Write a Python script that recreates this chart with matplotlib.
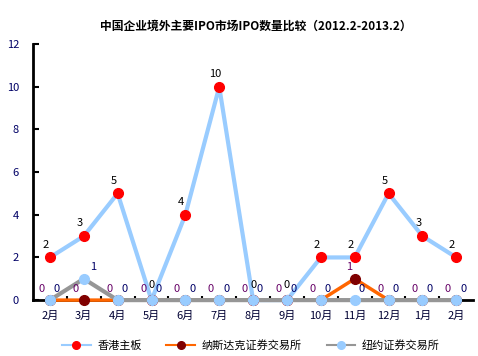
import matplotlib.pyplot as plt
from matplotlib.lines import Line2D

plt.rcParams['font.family'] = ['Noto Sans CJK SC', 'DejaVu Sans']

# data
months = ['2月', '3月', '4月', '5月', '6月', '7月', '8月', '9月', '10月', '11月', '12月', '1月', '2月']
hk_main = [2, 3, 5, 0, 4, 10, 0, 0, 2, 2, 5, 3, 2]
nasdaq = [0, 0, 0, 0, 0, 0, 0, 0, 0, 1, 0, 0, 0]
nyse = [0, 1, 0, 0, 0, 0, 0, 0, 0, 0, 0, 0, 0]
names = ['香港主板', '纳斯达克证券交易所', '纽约证券交易所']

fig = plt.figure(figsize=(4.78, 3.56), dpi=100)
ax = fig.add_axes([0.069, 0.157, 0.921, 0.719])
x = list(range(len(months)))

styles = [('#99CCFF', '#FF0000', 3), ('#FF6600', '#800000', 2.5), ('#969696', '#99CCFF', 3)]
for i, (vals, (lc, mc, lw)) in enumerate(zip([hk_main, nasdaq, nyse], styles)):
    ax.plot(x, vals, color=lc, lw=lw, marker='o', ms=7, mfc=mc, mec=mc,
            zorder=3 + i, clip_on=False)

# data labels
for i, v in enumerate(hk_main):
    off = (0, 9) if v == 0 else (-3, 7)
    ax.annotate(str(v), (i, v), xytext=off, textcoords='offset points',
                ha='center', fontsize=8, color='#000000', zorder=6)
for i, v in enumerate(nasdaq):
    off = (-6, 6) if v == 0 else (-4, 6)
    ax.annotate(str(v), (i, v), xytext=off, textcoords='offset points',
                ha='center', fontsize=8, color='#660066', zorder=6)
for i, v in enumerate(nyse):
    off = (5, 6) if v == 0 else (7, 6)
    ax.annotate(str(v), (i, v), xytext=off, textcoords='offset points',
                ha='center', fontsize=8, color='#000066', zorder=6)

ax.set_xlim(-0.5, len(months) - 0.5)
ax.set_ylim(0, 12)
ax.set_yticks(range(0, 13, 2))
ax.set_yticklabels([str(t) for t in range(0, 13, 2)], color='#000066', fontsize=8)
ax.set_xticks(x)
ax.set_xticklabels(months, fontsize=8, color='#000033')
ax.set_xticks([i + 0.5 for i in x[:-1]], minor=True)
ax.tick_params(axis='x', which='major', length=0, pad=8)
ax.tick_params(axis='x', which='minor', length=3, width=1.5, direction='in')
ax.tick_params(axis='y', length=4, width=1.5, direction='in', pad=10)

for s in ['top', 'right']:
    ax.spines[s].set_visible(False)
ax.spines['left'].set_linewidth(2)
ax.spines['bottom'].set_linewidth(2)

fig.text(0.535, 0.925, '中国企业境外主要IPO市场IPO数量比较（2012.2-2013.2）',
         ha='center', va='center', fontsize=8.5, fontweight='bold')

handles = [Line2D([], [], color=lc, lw=1.5, marker='o', ms=5.5, mfc=mc, mec=mc)
           for lc, mc, lw in styles]
fig.legend(handles, names, loc='center', bbox_to_anchor=(0.525, 0.03), ncol=3,
           frameon=False, fontsize=8, handlelength=2.6, handletextpad=0.6,
           columnspacing=2.2)

fig.savefig('out.png', dpi=100)
